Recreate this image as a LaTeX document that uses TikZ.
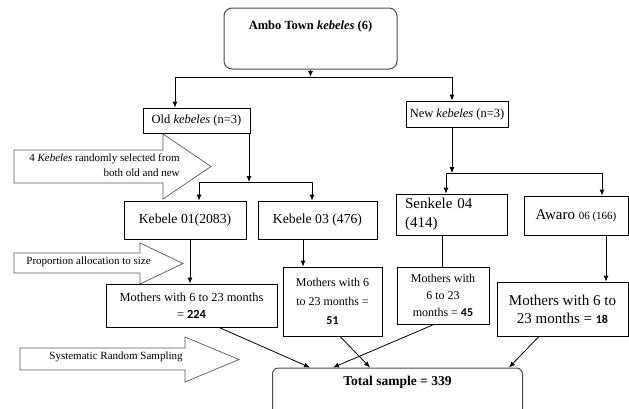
\documentclass[tikz,border=0pt]{standalone}
\usepackage{fontspec}
\setmainfont{Liberation Serif}
\newfontfamily\numfont{Carlito}
\usetikzlibrary{arrows.meta}
\newcommand\fsz[2]{\fontsize{#1}{#2}\selectfont}

\begin{document}
\begin{tikzpicture}[x=1pt, y=-1pt, >={Latex[length=6pt,width=5pt]}, line width=0.8pt,
box/.style={draw, inner sep=2pt, align=center},
rbox/.style={draw=black!70, line width=1pt, rounded corners=8pt},
pointer/.style={draw=black!65, line width=0.7pt},
num/.style={font=\numfont\bfseries}]
\useasboundingbox (0,0) rectangle (629,408);
\clip (0,0) rectangle (629,408);
% top level
\node[rbox, minimum width=173, minimum height=61,
  label={[anchor=north, inner sep=0pt, yshift=-12.5pt, font=\fsz{12.5}{15}\bfseries]north:Ambo Town \textit{kebeles} (6)}] (ambo) at (310.5,38.5) {};
\node[box, minimum width=107, minimum height=25, font=\fsz{12.5}{14}] (old) at (196.5,120.5) {Old \textit{kebeles} (n=3)};
\node[box, minimum width=102, minimum height=26, font=\fsz{12.5}{14}] (new) at (457,114) {New \textit{kebeles} (n=3)};
% selected kebeles
\node[box, minimum width=122, minimum height=38, font=\fsz{13.7}{16}] (k01) at (185,220) {Kebele 01(2083)};
\node[box, minimum width=119, minimum height=38, font=\fsz{13.7}{16}] (k03) at (317.5,220) {Kebele 03 (476)};
\node[box, minimum width=111, minimum height=41, text width=93, align=left, font=\fsz{15}{19}] (sen) at (451.5,214.5) {Senkele 04\\(414)};
\node[box, minimum width=104, minimum height=39] (awa) at (576,215.5) {\fsz{15}{17}Awaro \fsz{11}{13}06 (166)};
% mothers per kebele
\node[box, minimum width=171, minimum height=43, font=\fsz{12.4}{17}] (m224) at (191.5,305.5) {Mothers with 6 to 23 months\\= {\numfont\bfseries 224}};
\node[box, minimum width=99, minimum height=69, font=\fsz{12}{19}] (m51) at (332.5,301.5) {Mothers with 6\\to 23 months =\\{\numfont\bfseries 51}};
\node[box, minimum width=92, minimum height=57, font=\fsz{12}{17}] (m45) at (443,295.5) {Mothers with\\6 to 23\\months = {\numfont\bfseries 45}};
\node[box, minimum width=131, minimum height=54, font=\fsz{15}{18}] (m18) at (562.5,309) {Mothers with 6 to\\23 months = {\numfont\bfseries\fsz{12}{18}18}};
\node[rbox, rounded corners=6pt, minimum width=250, minimum height=50,
  label={[anchor=north, inner sep=0pt, yshift=-8pt, font=\fsz{13.5}{16}\bfseries]north:Total sample = 339}] (total) at (397.5,393) {};
% side pointers
\draw[pointer] (14,150) -- (163,150) -- (163,134) -- (211,166.5) -- (163,199) -- (163,183) -- (14,183) -- cycle;
\node[font=\fsz{11}{15}, align=right, anchor=east, inner sep=0pt] (note1) at (180,165) {4 \textit{Kebeles} randomly selected from\\both old and new};
\draw[pointer] (14,253) -- (140,253) -- (140,243) -- (183,263.5) -- (140,284) -- (140,273) -- (14,273) -- cycle;
\node[font=\fsz{11}{13}, anchor=west, inner sep=0pt] (note2) at (26,262) {Proportion allocation to size};
\draw[pointer] (20,348) -- (185,348) -- (185,337) -- (239,359.5) -- (185,382) -- (185,370) -- (20,370) -- cycle;
\node[font=\fsz{11}{13}, anchor=west, inner sep=0pt] (note3) at (49,357) {Systematic Random Sampling};
% splits
\coordinate (spl) at (175,77); \coordinate (spr) at (452,77);
\draw[->] (ambo.south) -- (ambo.south |- spl);
\draw (spl) -- (spr);
\draw[->] (spl) -- (spl |- old.north);
\draw[->] (spr) -- (spr |- new.north);
\coordinate (ol) at (199,182); \coordinate (om) at (249,182); \coordinate (or) at (312,182);
\draw[->] (om |- old.south) -- (om);
\draw (ol) -- (or);
\draw[->] (ol) -- (ol |- k01.north);
\draw[->] (or) -- (or |- k03.north);
\coordinate (nl) at (446,173); \coordinate (nm) at (452,173); \coordinate (nr) at (602,173);
\draw[->] (nm |- new.south) -- (nm);
\draw (nl) -- (nr);
\draw[->] (nl) -- (nl |- sen.north);
\draw[->] (nr) -- (nr |- awa.north);
% down to mothers
\draw[->] ([xshift=5]k01.south) -- ([xshift=5]k01.south |- m224.north);
\draw[->] ([xshift=-14.5]k03.south) -- ([xshift=-14.5]k03.south |- m51.north);
\draw ([xshift=-9.5]sen.south) -- ([xshift=-9.5]sen.south |- m45.north);
\draw[->] ([xshift=30]awa.south) -- ([xshift=30]awa.south |- m18.north);
% into total
\draw[->] ([xshift=27.5]m224.south) -- ([xshift=-87.5]total.north);
\draw[->] ([xshift=7.5]m51.south) -- ([xshift=-27.5]total.north);
\draw[->] ([xshift=-9]m45.south) -- ([xshift=-64.5]total.north);
\draw[->] ([xshift=-23.5]m18.south) -- ([xshift=111.5]total.north);
\end{tikzpicture}
\end{document}
